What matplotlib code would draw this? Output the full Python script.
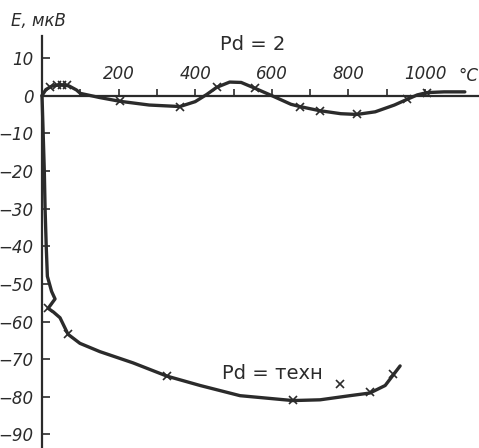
import matplotlib
matplotlib.use("Agg")
import matplotlib.pyplot as plt
from matplotlib.ticker import FixedLocator

# ---- data ----
pd2_t = [0, 10, 25, 47, 70, 90, 100, 150, 203, 280, 360, 400, 430, 456, 490, 520, 555, 600,
         650, 673, 725, 780, 822, 870, 920, 953, 980, 1005, 1050, 1104]
pd2_e = [0, 1.6, 2.5, 2.9, 2.6, 1.5, 0.6, -0.5, -1.5, -2.5, -2.9, -1.6, 0.3, 2.2, 3.6, 3.5, 2.0, 0,
         -2.3, -2.9, -4.0, -4.8, -5.0, -4.3, -2.5, -1.0, 0.2, 0.8, 1.0, 1.0]
pd2_mk_t = [22, 38, 52, 66, 203, 360, 456, 555, 673, 725, 822, 953, 1005]
pd2_mk_e = [2.3, 2.8, 2.9, 2.7, -1.5, -2.9, 2.2, 2.0, -2.9, -4.0, -5.0, -1.0, 0.8]

tech_t = [0, 3, 6, 8, 11, 14, 25, 34, 16, 30, 47, 68, 99, 151, 238, 326, 413, 517, 655, 726,
          804, 856, 896, 935]
tech_e = [0, -10, -20, -30, -40, -48, -52, -54, -56.5, -57.5, -59, -63.4, -65.8, -68, -71, -74.5,
          -77, -79.7, -81, -80.8, -79.7, -79.0, -77, -71.8]
tech_mk_t = [16, 68, 326, 655, 856, 917, 778]
tech_mk_e = [-56.5, -63.4, -74.5, -80.8, -78.7, -74, -76.6]

x_major = [200, 400, 600, 800, 1000]
x_minor = [100, 300, 500, 700, 900]
x_labels = ["200", "400", "600", "800", "1000"]
y_ticks = [10, 0, -10, -20, -30, -40, -50, -60, -70, -80, -90]
y_labels = ["10", "0", "−10", "−20", "−30", "−40", "−50", "−60", "−70", "−80", "−90"]

ink = "#2b2b2b"
fam = ["DejaVu Sans"]

fig = plt.figure(figsize=(4.79, 4.48), dpi=100)
ax = fig.add_axes([0, 0, 1, 1])
ax.set_xlim(-109.7, 1141)
ax.set_ylim(-93.6, 25.4)
ax.patch.set_alpha(0)

# axes lines
for s in ["bottom", "right"]:
    ax.spines[s].set_visible(False)
ax.spines["left"].set_position(("data", 0))
ax.spines["left"].set_bounds(-93.6, 15.8)
ax.spines["top"].set_position(("data", 0))
ax.spines["top"].set_bounds(0, 1141)
for s in ["left", "top"]:
    ax.spines[s].set_linewidth(1.6)
    ax.spines[s].set_color(ink)

ax.xaxis.set_ticks_position("top")
ax.xaxis.set_major_locator(FixedLocator(x_major))
ax.xaxis.set_minor_locator(FixedLocator(x_minor))
ax.set_xticklabels(x_labels, fontfamily=fam, fontstyle="italic", fontsize=12, color=ink)
ax.tick_params(axis="x", which="both", direction="out", length=5, width=1.2, color=ink, pad=4)

ax.set_yticks(y_ticks)
ax.set_yticklabels(y_labels, fontfamily=fam, fontstyle="italic", fontsize=12, color=ink)
ax.tick_params(axis="y", direction="in", length=6, width=1.2, color=ink, pad=6)

# curves
ax.plot(pd2_t, pd2_e, color=ink, lw=2.4, solid_capstyle="round", zorder=3)
ax.plot(pd2_mk_t, pd2_mk_e, ls="none", marker="x", ms=6, mew=1.2, color=ink, zorder=4)
ax.plot(tech_t, tech_e, color=ink, lw=2.4, solid_capstyle="round", zorder=3)
ax.plot(tech_mk_t, tech_mk_e, ls="none", marker="x", ms=6, mew=1.2, color=ink, zorder=4)

# texts
ax.text(-80, 19.7, "E, мкВ", fontfamily=fam, fontstyle="italic", fontsize=12, color=ink,
        ha="left", va="center")
ax.text(1088, 5.3, "°C", fontfamily=fam, fontstyle="italic", fontsize=12, color=ink,
        ha="left", va="center")
ax.text(465, 13.5, "Pd = 2", fontfamily=fam, fontsize=14, color=ink, ha="left", va="center")
ax.text(470, -73.7, "Pd = техн", fontfamily=fam, fontsize=14, color=ink, ha="left", va="center")

fig.savefig("out.png", dpi=100, facecolor="white")
